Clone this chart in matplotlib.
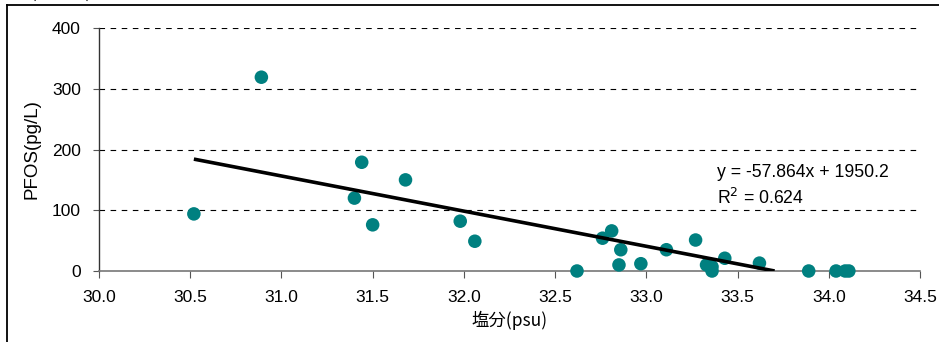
import matplotlib
matplotlib.use("Agg")
import matplotlib.pyplot as plt
from matplotlib.lines import Line2D
import numpy as np

plt.rcParams['font.family'] = ['Liberation Sans', 'Noto Sans CJK JP', 'DejaVu Sans']

salinity = [30.52, 30.89, 31.44, 31.40, 31.50, 31.68, 31.98, 32.06, 32.62, 32.76,
            32.81, 32.86, 32.85, 32.97, 33.11, 33.27, 33.33, 33.36, 33.36, 33.43,
            33.62, 33.89, 34.04, 34.09, 34.11]
pfos = [94, 319, 179, 120, 76, 150, 82, 49, 0, 54,
        66, 35, 10, 12, 35, 51, 10, 7, 0, 21,
        13, 0, 0, 0, 0]
slope = -57.864
intercept = 1950.2
r2 = 0.624
xticks = [30.0, 30.5, 31.0, 31.5, 32.0, 32.5, 33.0, 33.5, 34.0, 34.5]
yticks = [0, 100, 200, 300, 400]

W, H = 939, 342
fig = plt.figure(figsize=(W/100, H/100), dpi=100)
ax = fig.add_axes([99/W, (H-271)/H, (920-99)/W, (271-28)/H])
ax.set_xlim(30.0, 34.5)
ax.set_ylim(0, 400)

for yv in yticks[1:]:
    ax.axhline(yv, color='black', lw=0.8, ls=(0, (5, 5)), zorder=1)

ax.scatter(salinity, pfos, s=95, color='#008080', edgecolors='none', zorder=3, clip_on=False)

x_end = -intercept / slope
xl = np.array([min(salinity), x_end])
ax.plot(xl, slope * xl + intercept, color='black', lw=2.6, zorder=4, solid_capstyle='butt')

ax.set_xticks(xticks)
ax.set_xticklabels([f"{v:.1f}" for v in xticks], fontsize=12.5)
ax.set_yticks(yticks)
ax.set_yticklabels([str(v) for v in yticks], fontsize=12.5)
ax.tick_params(axis='x', direction='out', length=5, width=0.8, color='#555555', pad=9)
ax.tick_params(axis='y', direction='out', length=4, width=0.8, color='#555555', pad=9)

for s in ['top', 'right']:
    ax.spines[s].set_visible(False)
ax.spines['left'].set_color('#333333')
ax.spines['bottom'].set_color('#777777')
ax.spines['left'].set_linewidth(1.0)
ax.spines['bottom'].set_linewidth(1.2)

ax.set_xlabel('塩分(psu)', fontsize=12.5, family=['Noto Sans CJK JP', 'DejaVu Sans'], labelpad=4)
ax.set_ylabel('PFOS(pg/L)', fontsize=13.5, labelpad=8)

ax.text(33.39, 162, f"y = {slope}x + {intercept}", fontsize=12.7, va='center', ha='left')
ax.text(33.39, 121, f"R$^2$ = {r2}", fontsize=12.7, va='center', ha='left')

# outer frame (cropped)
fig.add_artist(Line2D([7/W, 1.0], [1-5/H, 1-5/H], color='black', lw=1.3, transform=fig.transFigure))
fig.add_artist(Line2D([7/W, 7/W], [0, 1-5/H], color='black', lw=1.3, transform=fig.transFigure))
fig.text(30/W, 1-2/H, '(参考図)', fontsize=12, va='bottom', ha='left',
         family=['Noto Sans CJK JP', 'DejaVu Sans'])

fig.savefig('out.png', dpi=100)
